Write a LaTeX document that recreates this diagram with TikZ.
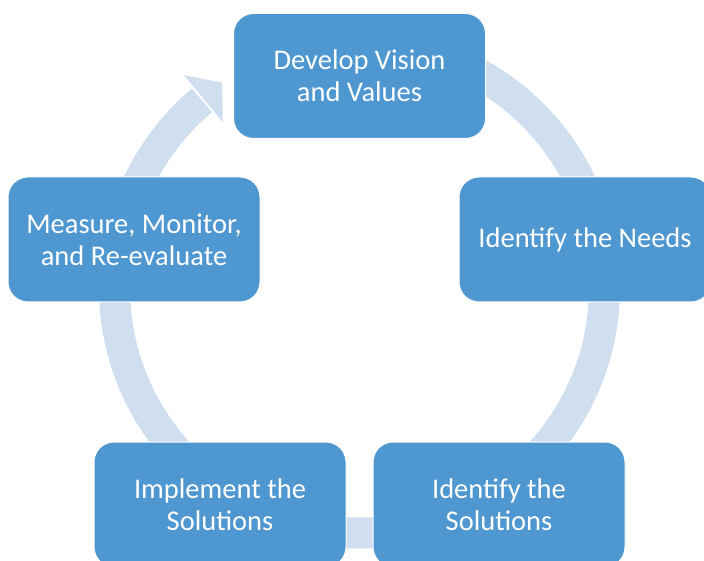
\documentclass[tikz,border=0pt]{standalone}
\usepackage{fontspec}
\setmainfont{Carlito}
\definecolor{stageblue}{RGB}{79,151,208}
\definecolor{ringblue}{RGB}{208,223,239}

\begin{document}
\begin{tikzpicture}[x=1pt,y=1pt,
    stage/.style={rectangle,rounded corners=20pt,fill=stageblue,draw=white,line width=1pt,
      minimum width=252pt,minimum height=125pt,text=white,align=center,
      font=\fontsize{28.5}{32}\selectfont},
    ring/.style={ringblue,line width=31pt}]
  \useasboundingbox (0,0) rectangle (704,560);
  \fill[white] (0,0) rectangle (704,560);
  \coordinate (hub) at (359.5,272);
  % circular arrow behind the stages
  \begin{scope}[shift={(hub)}]
    \draw[ring] (90:245) arc[start angle=90,end angle=-230,radius=245];
    \fill[ringblue] (129.5:215) -- (123.8:247) -- (129.5:276) -- cycle;
  \end{scope}
  % the five stages
  \node[stage] (vision) at (359.5,484) {Develop Vision\\and Values};
  \node[stage] (needs) at (585,320.5) {Identify the Needs};
  \node[stage] (solutions) at (499,55.5) {Identify the\\Solutions};
  \node[stage] (implement) at (220,55.5) {Implement the\\Solutions};
  \node[stage] (measure) at (134,320.5) {Measure, Monitor,\\and Re-evaluate};
\end{tikzpicture}
\end{document}
